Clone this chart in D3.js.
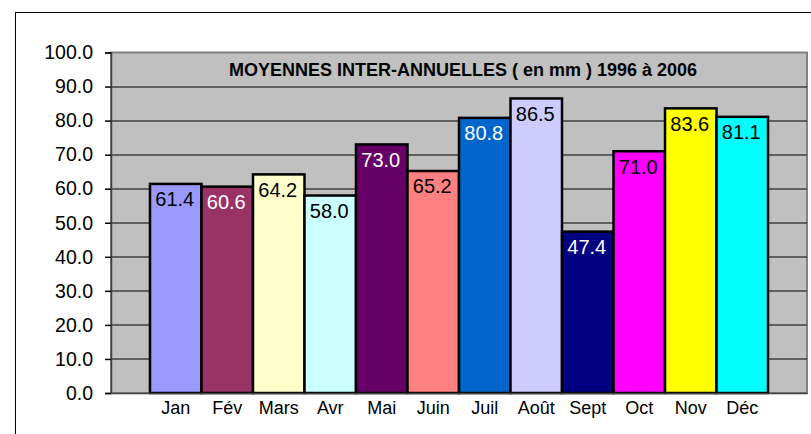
<!DOCTYPE html>
<html>
<head>
<meta charset="utf-8">
<script src="https://cdn.jsdelivr.net/npm/d3@7"></script>
<style>
	body { margin: 0; background: #fff; }
	svg text { font-family: "Liberation Sans", Arial, Helvetica, sans-serif; }
</style>
</head>
<body>
<div id="idContent"></div>
<script>
var aMonths = ["Jan", "Fév", "Mars", "Avr", "Mai", "Juin", "Juil", "Août", "Sept", "Oct", "Nov", "Déc"],
	aValues = [61.4, 60.6, 64.2, 58.0, 73.0, 65.2, 80.8, 86.5, 47.4, 71.0, 83.6, 81.1],
	aBarColors = ["#9999FF", "#993366", "#FFFFCC", "#CCFFFF", "#660066", "#FF8080",
		"#0066CC", "#CCCCFF", "#000080", "#FF00FF", "#FFFF00", "#00FFFF"],
	aLabelColors = ["#000", "#fff", "#000", "#000", "#fff", "#000",
		"#fff", "#000", "#fff", "#000", "#000", "#000"],
	aYTicks = [0, 10, 20, 30, 40, 50, 60, 70, 80, 90, 100];

var sTitle = "MOYENNES INTER-ANNUELLES ( en mm ) 1996 à 2006";

var margin = { top: 52.5, right: 4, bottom: 41, left: 111 },
	width = 811 - margin.left - margin.right,
	height = 434 - margin.top - margin.bottom;

var svg = d3.select("#idContent").append("svg")
	.attr("width", 811)
	.attr("height", 434);

// outer chart frame (runs off the picture on the right and bottom)
svg.append("rect")
	.attr("x", 15.5).attr("y", 12.5)
	.attr("width", 820).attr("height", 440)
	.attr("fill", "none")
	.attr("stroke", "#000")
	.attr("stroke-width", 1);

var oChart = svg.append("g")
	.attr("transform", "translate(" + margin.left + "," + margin.top + ")");

var x = d3.scaleBand().domain(aMonths).range([0, width])
	.paddingInner(0)
	.paddingOuter(0.757);
var y = d3.scaleLinear().domain([0, 100]).range([height, 0]);

// plot area
oChart.append("rect")
	.attr("width", width).attr("height", height)
	.attr("fill", "#C0C0C0")
	.attr("stroke", "#808080")
	.attr("stroke-width", 2);

// gridlines
oChart.selectAll(".grid")
	.data(aYTicks.filter(function (d) { return d > 0 && d < 100; }))
	.enter().append("line")
	.attr("class", "grid")
	.attr("x1", 0).attr("x2", width)
	.attr("y1", function (d) { return Math.round(y(d)) + 0.5; })
	.attr("y2", function (d) { return Math.round(y(d)) + 0.5; })
	.attr("stroke", "#000")
	.attr("stroke-width", 1);

// title
oChart.append("text")
	.attr("x", width / 2 + 4)
	.attr("y", 23)
	.attr("text-anchor", "middle")
	.style("font-size", "18px")
	.style("font-weight", "bold")
	.attr("fill", "#000")
	.text(sTitle);

// bars
oChart.selectAll(".bar")
	.data(aValues)
	.enter().append("rect")
	.attr("class", "bar")
	.attr("x", function (d, i) { return x(aMonths[i]); })
	.attr("y", function (d) { return y(d); })
	.attr("width", x.bandwidth())
	.attr("height", function (d) { return height - y(d); })
	.attr("fill", function (d, i) { return aBarColors[i]; })
	.attr("stroke", "#000")
	.attr("stroke-width", 2.5);

// value labels
oChart.selectAll(".val")
	.data(aValues)
	.enter().append("text")
	.attr("class", "val")
	.attr("x", function (d, i) { return x(aMonths[i]) + x.bandwidth() / 2 - 1; })
	.attr("y", function (d) { return y(d) + 22.5; })
	.attr("text-anchor", "middle")
	.style("font-size", "20px")
	.attr("fill", function (d, i) { return aLabelColors[i]; })
	.text(function (d) { return d.toFixed(1); });

// axes
var gY = oChart.append("g")
	.call(d3.axisLeft(y).tickValues(aYTicks).tickFormat(d3.format(".1f")).tickSize(6).tickPadding(12));
gY.select(".domain").attr("stroke", "#404040").attr("stroke-width", 1.5);
gY.selectAll(".tick line").attr("stroke", "#000").attr("stroke-width", 1.5);
gY.selectAll(".tick text")
	.style("font-size", "19.5px")
	.attr("fill", "#000");

var gX = oChart.append("g")
	.attr("transform", "translate(0," + height + ")")
	.call(d3.axisBottom(x).tickSize(0).tickPadding(8));
gX.select(".domain").attr("stroke", "#404040").attr("stroke-width", 1.5);
gX.selectAll(".tick text")
	.style("font-size", "18px")
	.attr("fill", "#000");
</script>
</body>
</html>
